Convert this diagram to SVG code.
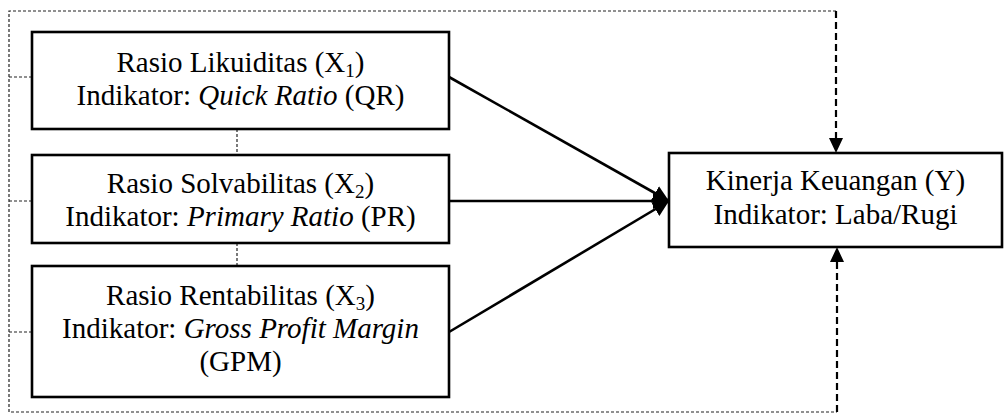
<svg xmlns="http://www.w3.org/2000/svg" width="1007" height="414" viewBox="0 0 1007 414">
  <style>
    .box { fill: #fff; stroke: #000; stroke-width: 2.6; }
    .lbl { font-family: "Liberation Serif", "Times New Roman", serif; font-size: 29px; fill: #000; text-anchor: middle; }
    .it { font-style: italic; }
    .sub { font-size: 19px; }
    .thin { fill: none; stroke: #222; stroke-width: 1.2; stroke-dasharray: 3 2; }
    .thick { fill: none; stroke: #000; stroke-width: 2.2; stroke-dasharray: 7 4; }
    .solid { fill: none; stroke: #000; stroke-width: 2.6; }
  </style>
  <defs>
    <marker id="head" viewBox="0 0 10 10" refX="10" refY="5" markerWidth="16" markerHeight="16" markerUnits="userSpaceOnUse" orient="auto">
      <path d="M0,0 L10,5 L0,10 Z" fill="#000"/>
    </marker>
  </defs>
  <rect width="1007" height="414" fill="#fff"/>

  <g id="connectors">
    <!-- thin dashed frame linking the three ratios -->
    <path class="thin" d="M836,11 H9 V412 H837"/>
    <path class="thin" d="M9,77 H32 M9,201 H32 M9,332 H32"/>
    <path class="thin" d="M237,129 V155 M237,243 V266"/>
    <!-- simultaneous effect onto Y -->
    <path class="thick" d="M836,11 V139" />
    <path d="M829,138 L843,138 L836,153 Z" fill="#000"/>
    <path class="thick" d="M837,412 V262" />
    <path d="M830,262 L844,262 L837,247 Z" fill="#000"/>
    <!-- partial effects -->
    <line class="solid" x1="449" y1="77" x2="669" y2="201" marker-end="url(#head)"/>
    <line class="solid" x1="449" y1="201" x2="669" y2="201" marker-end="url(#head)"/>
    <line class="solid" x1="449" y1="332" x2="669" y2="201" marker-end="url(#head)"/>
  </g>

  <g id="x1">
    <rect class="box" x="32" y="32" width="417" height="97"/>
    <text class="lbl" x="240.5" y="72">Rasio Likuiditas (X<tspan class="sub" dy="5">1</tspan><tspan dy="-5">)</tspan></text>
    <text class="lbl" x="240.5" y="105">Indikator: <tspan class="it">Quick Ratio</tspan> (QR)</text>
  </g>

  <g id="x2">
    <rect class="box" x="32" y="155" width="417" height="88"/>
    <text class="lbl" x="240.5" y="193">Rasio Solvabilitas (X<tspan class="sub" dy="5">2</tspan><tspan dy="-5">)</tspan></text>
    <text class="lbl" x="240.5" y="226">Indikator: <tspan class="it">Primary Ratio</tspan> (PR)</text>
  </g>

  <g id="x3">
    <rect class="box" x="32" y="266" width="417" height="131"/>
    <text class="lbl" x="240.5" y="305">Rasio Rentabilitas (X<tspan class="sub" dy="5">3</tspan><tspan dy="-5">)</tspan></text>
    <text class="lbl" x="240.5" y="338">Indikator: <tspan class="it">Gross Profit Margin</tspan></text>
    <text class="lbl" x="240.5" y="371">(GPM)</text>
  </g>

  <g id="y">
    <rect class="box" x="669" y="153" width="333" height="94"/>
    <text class="lbl" x="835.5" y="190">Kinerja Keuangan (Y)</text>
    <text class="lbl" x="835.5" y="224">Indikator: Laba/Rugi</text>
  </g>
</svg>
